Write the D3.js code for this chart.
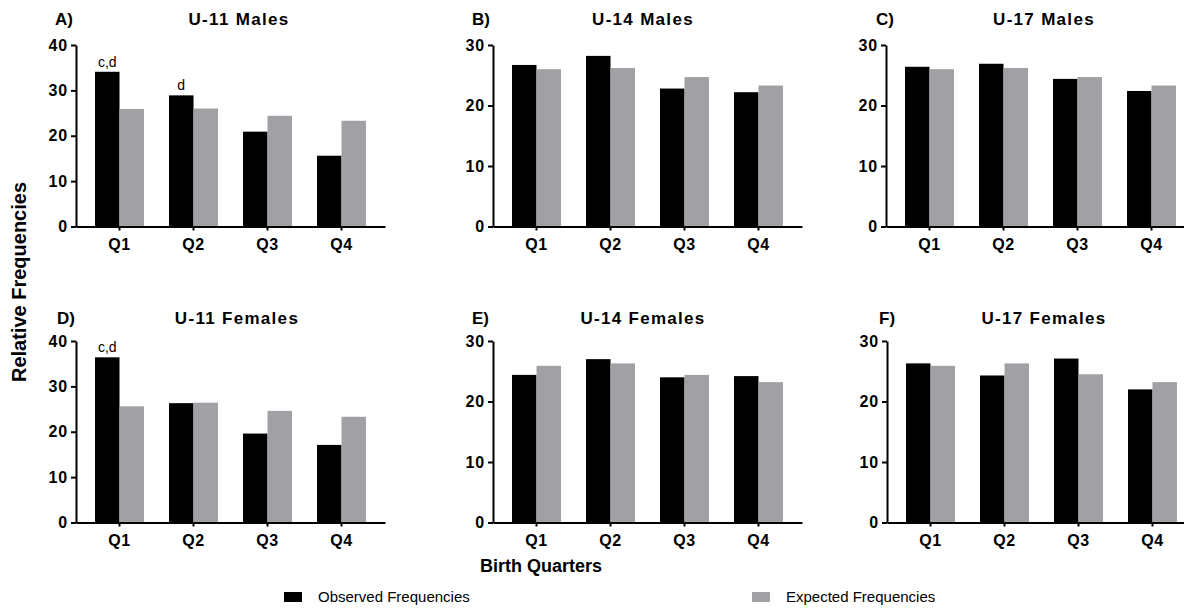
<!DOCTYPE html>
<html>
<head>
<meta charset="utf-8">
<script src="https://cdn.jsdelivr.net/npm/d3@7"></script>
<style>
body { margin: 0; background: #fff; }
svg { display: block; font-family: Arial, "Liberation Sans", sans-serif; }
.domain, .tick line { stroke: #000; stroke-width: 2px; }
.tick text { font-weight: bold; fill: #000; }
</style>
</head>
<body>
<svg id="chart" width="1184" height="609"></svg>
<script>
// data
var quarters = ["Q1", "Q2", "Q3", "Q4"];
var panelLetters = ["A)", "B)", "C)", "D)", "E)", "F)"];
var panelTitles = ["U-11 Males", "U-14 Males", "U-17 Males", "U-11 Females", "U-14 Females", "U-17 Females"];
var observed = [
    [34.1, 28.9, 20.9, 15.6],
    [26.7, 28.2, 22.8, 22.2],
    [26.4, 26.9, 24.4, 22.4],
    [36.4, 26.3, 19.6, 17.1],
    [24.4, 27.0, 24.0, 24.2],
    [26.3, 24.3, 27.1, 22.0]
];
var expected = [
    [25.9, 26.0, 24.4, 23.3],
    [26.0, 26.2, 24.7, 23.3],
    [26.0, 26.2, 24.7, 23.3],
    [25.6, 26.4, 24.6, 23.3],
    [25.9, 26.3, 24.4, 23.2],
    [25.9, 26.3, 24.5, 23.2]
];
var yMax = [40, 30, 30, 40, 30, 30];
var yTicks = [[0, 10, 20, 30, 40], [0, 10, 20, 30], [0, 10, 20, 30], [0, 10, 20, 30, 40], [0, 10, 20, 30], [0, 10, 20, 30]];
// significance letters over observed bars
var notes = [
    {panel: 0, q: "Q1", text: "c,d"},
    {panel: 0, q: "Q2", text: "d"},
    {panel: 3, q: "Q1", text: "c,d"}
];
var seriesNames = ["Observed Frequencies", "Expected Frequencies"];
var color = ["#000000", "#a1a1a5"];

// layout
var axisX = [76, 493, 886, 76, 493, 887];
var axisTop = [45, 45, 45, 341, 341, 341];
var plotH = 181.5;
var plotW = 309;
var letterX = [55, 472, 876, 57, 472, 879];
var titleX = [239, 643, 1044, 237, 643, 1044];
var titleY = [25, 25, 25, 324, 324, 324];

var svg = d3.select("#chart");

var x = d3.scaleBand()
    .domain(quarters)
    .range([0, plotW])
    .paddingInner(0.338)
    .paddingOuter(0.257);
var xs = d3.scaleBand()
    .domain([0, 1])
    .range([0, x.bandwidth()]);

panelTitles.forEach(function(title, p) {
    var y = d3.scaleLinear().domain([0, yMax[p]]).range([plotH, 0]);
    var g = svg.append("g")
        .attr("transform", "translate(" + axisX[p] + "," + axisTop[p] + ")");

    var rows = quarters.map(function(q, i) {
        return {q: q, vals: [observed[p][i], expected[p][i]]};
    });

    var grp = g.selectAll(".grp")
        .data(rows)
        .enter().append("g")
        .attr("class", "grp")
        .attr("transform", function(d) { return "translate(" + x(d.q) + ",0)"; });
    grp.selectAll("rect")
        .data(function(d) { return d.vals; })
        .enter().append("rect")
        .attr("x", function(d, i) { return xs(i); })
        .attr("width", xs.bandwidth())
        .attr("y", function(d) { return y(d); })
        .attr("height", function(d) { return plotH - y(d); })
        .attr("fill", function(d, i) { return color[i]; });

    g.append("g")
        .attr("transform", "translate(0," + plotH + ")")
        .call(d3.axisBottom(x).tickSize(4).tickPadding(8).tickSizeOuter(0))
        .selectAll("text").style("font-size", "16px").style("letter-spacing", "0.5px");

    g.append("g")
        .call(d3.axisLeft(y).tickValues(yTicks[p]).tickSize(5).tickPadding(3).tickSizeOuter(0))
        .selectAll("text").style("font-size", "16px").style("letter-spacing", "0.8px");

    // letters
    notes.filter(function(n) { return n.panel === p; }).forEach(function(n) {
        var i = quarters.indexOf(n.q);
        g.append("text")
            .attr("x", x(n.q) + xs(0) + xs.bandwidth() / 2)
            .attr("y", y(observed[p][i]) - 5)
            .attr("text-anchor", "middle")
            .style("font-size", "14px")
            .text(n.text);
    });

    svg.append("text")
        .attr("x", letterX[p])
        .attr("y", titleY[p])
        .style("font-size", "17px")
        .style("font-weight", "bold")
        .text(panelLetters[p]);
    svg.append("text")
        .attr("x", titleX[p])
        .attr("y", titleY[p])
        .attr("text-anchor", "middle")
        .style("font-size", "17px")
        .style("font-weight", "bold")
        .style("letter-spacing", "1.3px")
        .text(title);
});

svg.append("text")
    .attr("transform", "translate(26,282) rotate(-90)")
    .attr("text-anchor", "middle")
    .style("font-size", "20px")
    .style("font-weight", "bold")
    .text("Relative Frequencies");

svg.append("text")
    .attr("x", 541)
    .attr("y", 572)
    .attr("text-anchor", "middle")
    .style("font-size", "18px")
    .style("font-weight", "bold")
    .text("Birth Quarters");

var legend = svg.selectAll(".legend")
    .data(seriesNames)
    .enter().append("g")
    .attr("class", "legend")
    .attr("transform", function(d, i) { return "translate(" + [284 + i * 468, 592] + ")"; });
legend.append("rect")
    .attr("width", 18)
    .attr("height", 10)
    .attr("fill", function(d, i) { return color[i]; });
legend.append("text")
    .attr("x", 34)
    .attr("y", 10)
    .style("font-size", "15px")
    .text(function(d) { return d; });
</script>
</body>
</html>
